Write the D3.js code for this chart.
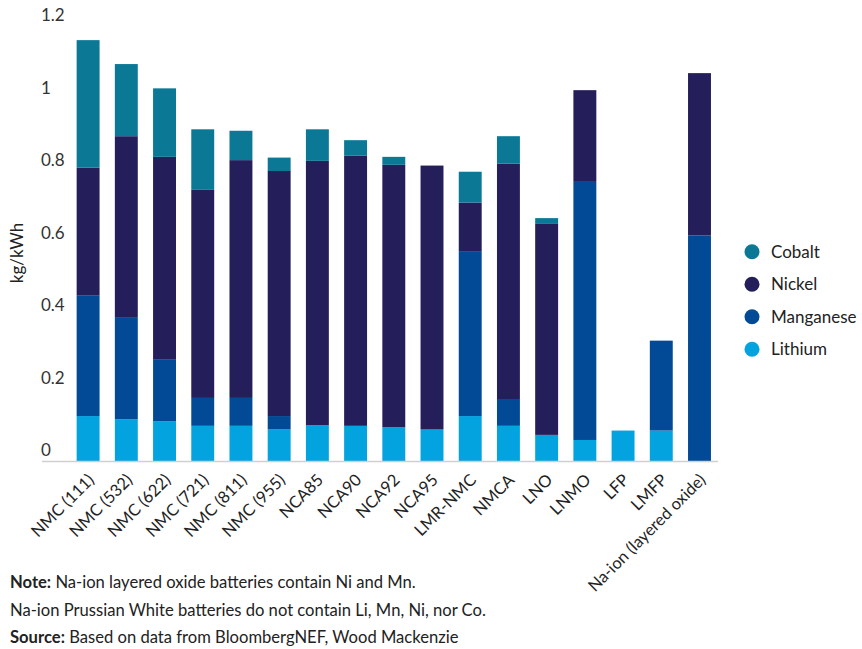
<!DOCTYPE html>
<html>
<head>
<meta charset="utf-8">
<script src="https://cdn.jsdelivr.net/npm/d3@7"></script>
<style>
  html, body { margin: 0; padding: 0; background: #fff; }
  svg { display: block; font-family: Lato, "Noto Sans", sans-serif; }
</style>
</head>
<body>
<svg id="chart" width="862" height="649"></svg>
<script>
const categories = ["NMC (111)", "NMC (532)", "NMC (622)", "NMC (721)", "NMC (811)", "NMC (955)",
  "NCA85", "NCA90", "NCA92", "NCA95", "LMR-NMC", "NMCA", "LNO", "LNMO", "LFP", "LMFP", "Na-ion (layered oxide)"];
const lithium   = [0.124, 0.115, 0.110, 0.097, 0.097, 0.087, 0.099, 0.097, 0.093, 0.087, 0.124, 0.097, 0.072, 0.058, 0.084, 0.084, 0];
const manganese = [0.332, 0.280, 0.171, 0.077, 0.077, 0.037, 0, 0, 0, 0, 0.455, 0.074, 0, 0.712, 0, 0.248, 0.622];
const nickel    = [0.353, 0.501, 0.558, 0.574, 0.656, 0.676, 0.729, 0.745, 0.724, 0.728, 0.134, 0.649, 0.582, 0.253, 0, 0, 0.448];
const cobalt    = [0.352, 0.199, 0.189, 0.167, 0.081, 0.037, 0.087, 0.043, 0.022, 0, 0.085, 0.076, 0.016, 0, 0, 0, 0];
const seriesNames = ["Lithium", "Manganese", "Nickel", "Cobalt"];
const legendOrder = ["Cobalt", "Nickel", "Manganese", "Lithium"];
const yTicks = [0, 0.2, 0.4, 0.6, 0.8, 1, 1.2];
const yTickLabels = ["0", "0.2", "0.4", "0.6", "0.8", "1", "1.2"];

const colors = { Cobalt: "#0b7895", Nickel: "#241e5b", Manganese: "#024a96", Lithium: "#03a3e0" };
const seriesValues = { Lithium: lithium, Manganese: manganese, Nickel: nickel, Cobalt: cobalt };

const table = categories.map((c, i) => {
  const row = { cat: c };
  seriesNames.forEach(s => row[s] = seriesValues[s][i]);
  return row;
});

const svg = d3.select("#chart");
const x = d3.scaleBand().domain(categories).range([69, 718.6]).paddingInner(0.4).paddingOuter(0.2);
const y = d3.scaleLinear().domain([0, 1.2]).range([461, 26]);

const stack = d3.stack().keys(seriesNames);
const stacked = stack(table);

svg.append("g").selectAll("g").data(stacked).join("g")
  .attr("fill", d => colors[d.key])
  .selectAll("rect").data(d => d).join("rect")
  .attr("x", d => x(d.data.cat))
  .attr("width", x.bandwidth())
  .attr("y", d => y(d[1]))
  .attr("height", d => Math.max(0, y(d[0]) - y(d[1])));

// baseline
svg.append("line").attr("x1", 42).attr("x2", 718).attr("y1", y(0) + 0.5).attr("y2", y(0) + 0.5)
  .attr("stroke", "#d0d0d0").attr("stroke-width", 1.5);

// y tick labels
svg.append("g").selectAll("text").data(yTicks).join("text")
  .attr("x", 41).attr("y", d => y(d) - 5)
  .attr("font-size", 17).attr("fill", "#333")
  .text((d, i) => yTickLabels[i]);

// y title
svg.append("text").attr("transform", "translate(23,253) rotate(-90)")
  .attr("text-anchor", "middle").attr("font-size", 17).attr("fill", "#222").text("kg/kWh");

// x labels
svg.append("g").selectAll("text").data(categories).join("text")
  .attr("transform", d => `translate(${x(d) + x.bandwidth() / 2 + 7},${481}) rotate(-45)`)
  .attr("text-anchor", "end").attr("font-size", 16.5).attr("fill", "#222")
  .text(d => d);

// legend
const lg = svg.append("g").selectAll("g").data(legendOrder).join("g")
  .attr("transform", (d, i) => `translate(752,${251.7 + i * 32.5})`);
lg.append("circle").attr("r", 7.5).attr("fill", d => colors[d]);
lg.append("text").attr("x", 19).attr("y", 6).attr("font-size", 17).attr("fill", "#222").text(d => d);

// notes
const notes = svg.append("g").attr("font-size", 16.6).attr("fill", "#222");
const t1 = notes.append("text").attr("x", 10).attr("y", 588);
t1.append("tspan").attr("font-weight", "bold").text("Note:");
t1.append("tspan").text(" Na-ion layered oxide batteries contain Ni and Mn.");
notes.append("text").attr("x", 10).attr("y", 615.5).text("Na-ion Prussian White batteries do not contain Li, Mn, Ni, nor Co.");
const t3 = notes.append("text").attr("x", 10).attr("y", 643);
t3.append("tspan").attr("font-weight", "bold").text("Source:");
t3.append("tspan").text(" Based on data from BloombergNEF, Wood Mackenzie");
</script>
</body>
</html>
